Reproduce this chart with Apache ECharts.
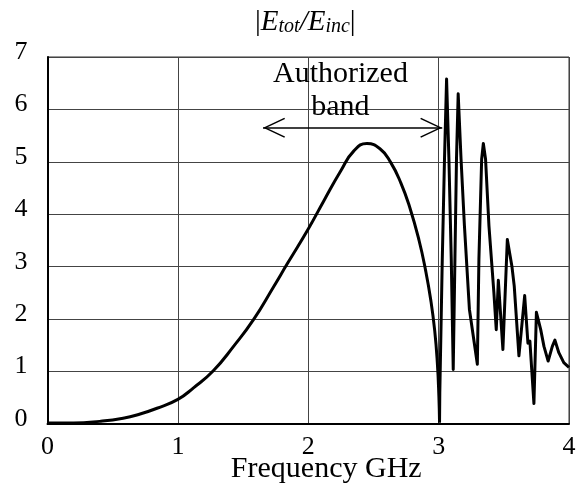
<!DOCTYPE html>
<html>
<head>
<meta charset="utf-8">
<script src="https://cdn.jsdelivr.net/npm/echarts@6/dist/echarts.min.js"></script>
<style>
html,body{margin:0;padding:0;background:#fff;}
#chart{width:582px;height:487px;}
</style>
</head>
<body>
<div id="chart"></div>
<script>
// ---- data ----
var freqSmooth = [0, 0.2, 0.4, 0.58, 0.71, 0.84, 1.0, 1.12, 1.27, 1.43, 1.58, 1.73, 1.84, 2.0, 2.12, 2.25, 2.35, 2.45, 2.55, 2.63, 2.71, 2.78, 2.85, 2.90, 2.94, 2.97, 2.99, 3.002, 3.007];
var magSmooth  = [0.02, 0.02, 0.05, 0.11, 0.19, 0.30, 0.47, 0.69, 1.01, 1.49, 1.99, 2.60, 3.06, 3.72, 4.26, 4.83, 5.21, 5.35, 5.25, 5.00, 4.60, 4.12, 3.50, 2.93, 2.36, 1.78, 1.17, 0.53, 0.03];

var freqOsc = [3.007, 3.009, 3.028, 3.045, 3.061, 3.079, 3.097, 3.112, 3.125, 3.137, 3.150, 3.172, 3.198, 3.236, 3.297, 3.309, 3.330, 3.343, 3.360, 3.386, 3.424, 3.442, 3.458, 3.493, 3.527, 3.562, 3.580, 3.616, 3.660, 3.685, 3.700, 3.731, 3.750, 3.783, 3.808, 3.840, 3.872, 3.892, 3.922, 3.960, 4.0];
var magOsc  = [0.03, 0.59, 3.14, 5.05, 6.58, 5.05, 3.14, 1.04, 3.14, 5.05, 6.30, 5.05, 3.78, 2.19, 1.14, 3.14, 5.05, 5.35, 5.05, 3.78, 2.50, 1.80, 2.74, 1.42, 3.52, 3.01, 2.63, 1.30, 2.45, 1.54, 1.58, 0.39, 2.13, 1.80, 1.48, 1.20, 1.48, 1.60, 1.36, 1.17, 1.08];

var xRange = [0, 4];
var yRange = [0, 7];
var bandArrowFreq = [1.653, 3.028];
var bandArrowLevel = 5.65;
var bandLabelPos = [2.247, 6.35];
var bandLabel = 'Authorized\nband';

function pairs(xs, ys){ return xs.map(function(x,i){ return [x, ys[i]]; }); }

var FONT = "'Liberation Serif','Times New Roman',serif";
var chevron = 'path://M0,-22 L0.001,-22 Z M0,0 L10,21 L8.7,21.7 L0,3.2 L-8.7,21.7 L-10,21 Z';

var chart = echarts.init(document.getElementById('chart'), null, {renderer:'canvas'});
chart.setOption({
  animation: false,
  backgroundColor: '#fff',
  title: {
    text: '|{e|E}{s|tot}{e|/E}{s|inc}|',
    left: 250,
    top: 2,
    padding: [5, 5, 5, 5],
    textStyle: {
      fontFamily: FONT, fontSize: 29, fontWeight: 'normal', color: '#000',
      rich: {
        e: {fontFamily: FONT, fontSize: 29, fontStyle: 'italic', color: '#000'},
        s: {fontFamily: FONT, fontSize: 20, fontStyle: 'italic', color: '#000', padding: [10, 0, 0, 0]}
      }
    }
  },
  grid: {
    left: 47.5, right: 13, top: 57, bottom: 63,
    outerBoundsMode: 'none', containLabel: false,
    show: true, borderColor: '#333', borderWidth: 1, backgroundColor: 'transparent'
  },
  xAxis: {
    type: 'value', min: xRange[0], max: xRange[1], interval: 1,
    name: 'Frequency GHz', nameLocation: 'middle', nameGap: 30, nameMoveOverlap: false,
    nameTextStyle: {fontFamily: FONT, fontSize: 30, color: '#000', padding: [0, 0, 0, 36]},
    axisLine: {show: true, onZero: false, lineStyle: {color: '#000', width: 2}},
    axisTick: {show: false},
    axisLabel: {fontFamily: FONT, fontSize: 26, color: '#000', margin: 10},
    splitLine: {show: true, lineStyle: {color: '#444', width: 1}}
  },
  yAxis: {
    type: 'value', min: yRange[0], max: yRange[1], interval: 1,
    axisLine: {show: true, lineStyle: {color: '#000', width: 2}},
    axisTick: {show: false},
    axisLabel: {fontFamily: FONT, fontSize: 26, color: '#000', margin: 20, verticalAlign: 'bottom', lineHeight: 10},
    splitLine: {show: true, lineStyle: {color: '#444', width: 1}}
  },
  series: [
    {
      type: 'line', data: pairs(freqSmooth, magSmooth), smooth: 0.5,
      showSymbol: false, symbol: 'none',
      lineStyle: {color: '#000', width: 3}, z: 5
    },
    {
      type: 'line', data: pairs(freqOsc, magOsc), smooth: false,
      showSymbol: false, symbol: 'none',
      lineStyle: {color: '#000', width: 3, join: 'round'}, z: 5,
      markLine: {
        silent: true,
        symbol: [chevron, chevron],
        symbolSize: [20, 44],
        label: {show: false},
        lineStyle: {color: '#000', width: 1.5, type: 'solid'},
        data: [[{coord: [bandArrowFreq[0], bandArrowLevel]}, {coord: [bandArrowFreq[1], bandArrowLevel]}]]
      },
      markPoint: {
        silent: true,
        symbol: 'circle', symbolSize: 1,
        itemStyle: {color: 'rgba(0,0,0,0)'},
        label: {
          show: true, position: 'inside', formatter: bandLabel,
          fontFamily: FONT, fontSize: 30, lineHeight: 33, color: '#000', align: 'center'
        },
        data: [{coord: bandLabelPos}]
      }
    }
  ]
});
</script>
</body>
</html>
